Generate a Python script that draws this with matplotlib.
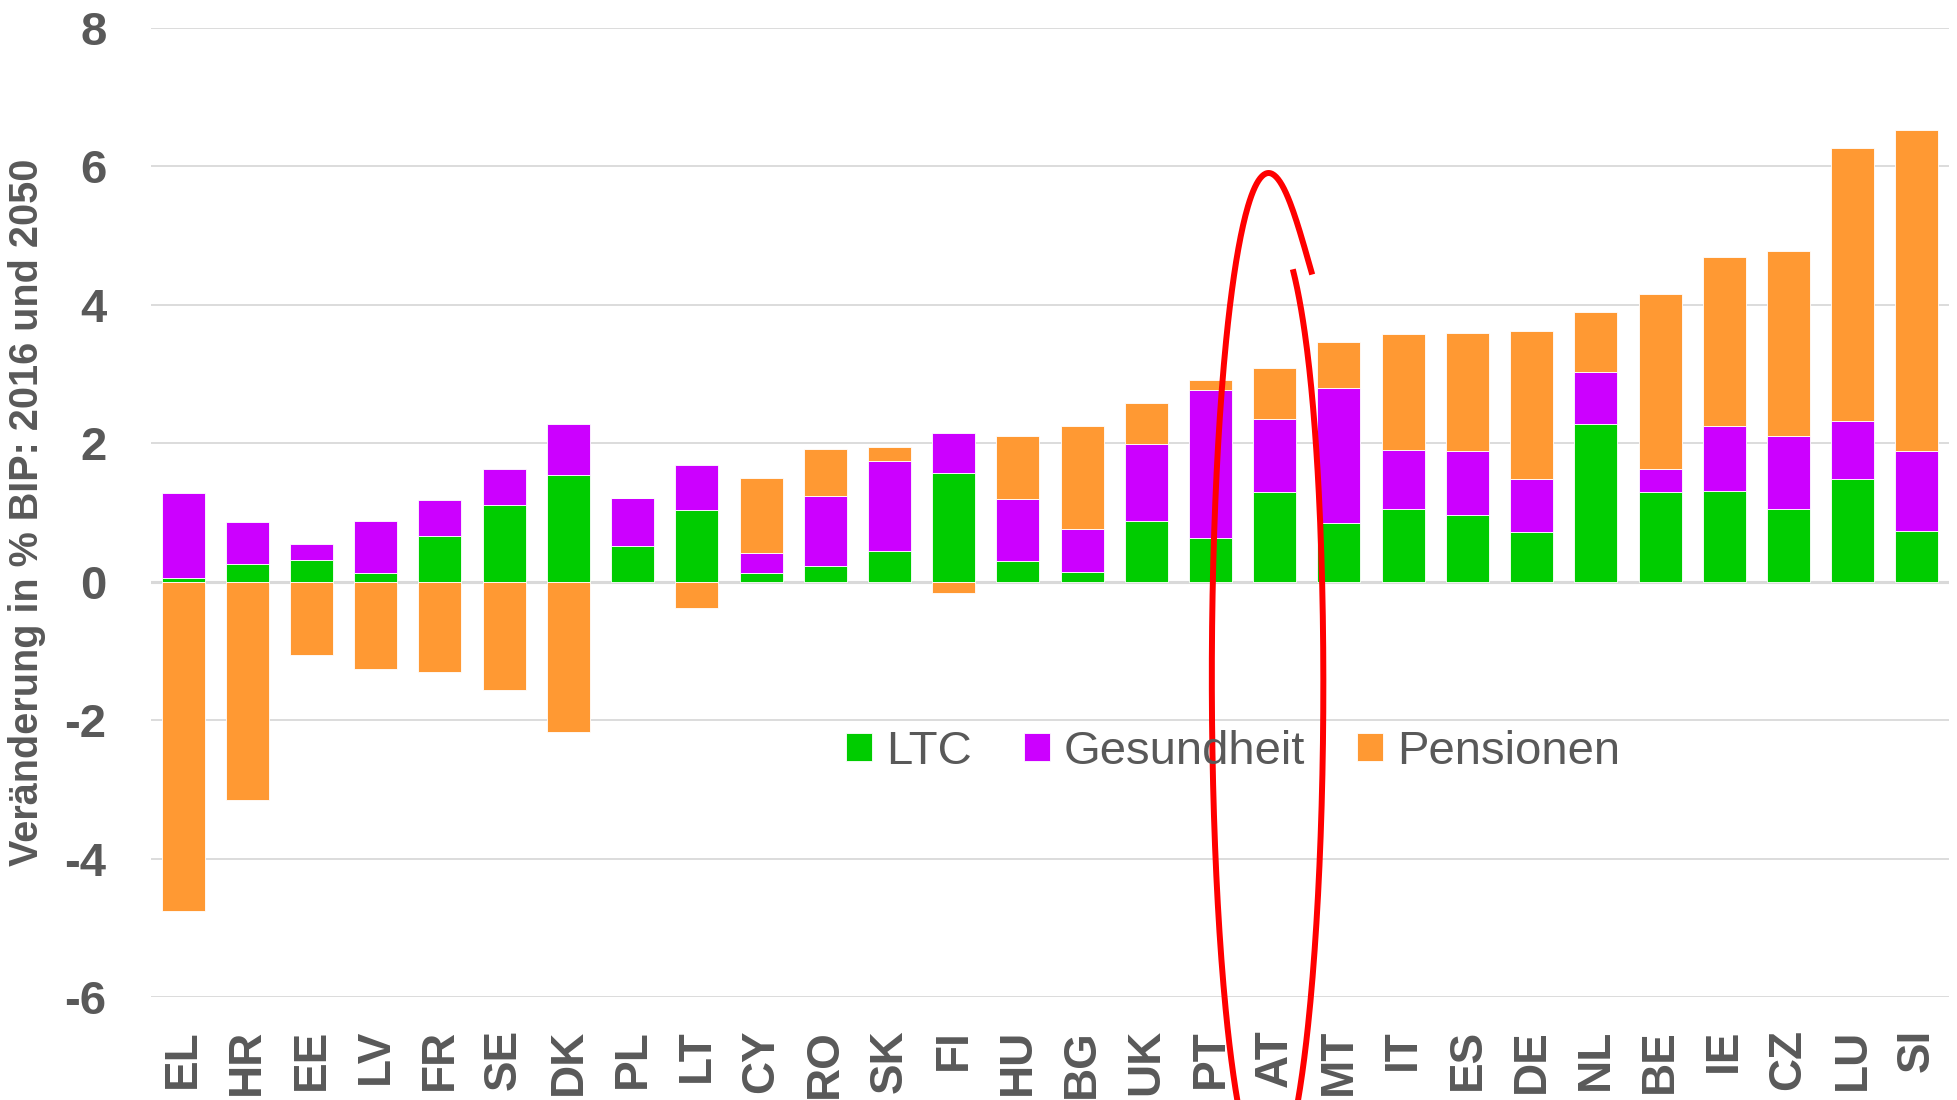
import numpy as np
import matplotlib as mpl
mpl.use('Agg')
import matplotlib.pyplot as plt

countries = ['EL', 'HR', 'EE', 'LV', 'FR', 'SE', 'DK', 'PL', 'LT', 'CY', 'RO', 'SK', 'FI', 'HU',
             'BG', 'UK', 'PT', 'AT', 'MT', 'IT', 'ES', 'DE', 'NL', 'BE', 'IE', 'CZ', 'LU', 'SI']
ltc = [0.05, 0.25, 0.31, 0.13, 0.66, 1.11, 1.54, 0.51, 1.03, 0.13, 0.23, 0.44, 1.57, 0.30,
       0.14, 0.87, 0.63, 1.30, 0.85, 1.05, 0.96, 0.71, 2.27, 1.29, 1.31, 1.05, 1.48, 0.73]
gesundheit = [1.23, 0.61, 0.23, 0.74, 0.52, 0.52, 0.74, 0.69, 0.66, 0.28, 1.00, 1.30, 0.57, 0.89,
              0.62, 1.12, 2.13, 1.05, 1.95, 0.85, 0.92, 0.77, 0.76, 0.33, 0.94, 1.05, 0.84, 1.15]
pensionen = [-4.76, -3.15, -1.06, -1.27, -1.30, -1.57, -2.18, 0.0, -0.38, 1.09, 0.69, 0.20, -0.17, 0.91,
             1.49, 0.59, 0.15, 0.74, 0.66, 1.67, 1.71, 2.14, 0.86, 2.53, 2.43, 2.67, 3.94, 4.64]
yticks = [-6, -4, -2, 0, 2, 4, 6, 8]

GREEN = '#00cc00'
PURPLE = '#cc00ff'
ORANGE = '#ff9933'
TEXT = '#595959'
GRID = '#d9d9d9'

fig = plt.figure(figsize=(19.57, 11), dpi=100)
ax = fig.add_axes([151 / 1957, 1 - 997 / 1100, 1798 / 1957, (997 - 27.6) / 1100])

x = np.arange(len(countries))
l = np.array(ltc)
g = np.array(gesundheit)
p = np.array(pensionen)
w = 0.67
kw = dict(width=w, edgecolor='white', linewidth=0.6, zorder=3)
ax.bar(x, l, color=GREEN, label='LTC', **kw)
ax.bar(x, g, bottom=l, color=PURPLE, label='Gesundheit', **kw)
ax.bar(x, p, bottom=np.where(p >= 0, l + g, 0), color=ORANGE, label='Pensionen', **kw)

ax.set_xlim(-0.5, len(countries) - 0.5)
ax.set_ylim(-6, 8)
ax.set_yticks(yticks)
ax.set_yticklabels([str(v) for v in yticks])
ax.yaxis.grid(True, color=GRID, linewidth=1.3)
ax.axhline(0, color=GRID, linewidth=2.2, zorder=2)
ax.set_axisbelow(True)
for s in ax.spines.values():
    s.set_visible(False)

ax.set_xticks(x)
ax.set_xticklabels(countries, rotation=90, va='top', ha='center')
ax.tick_params(axis='x', length=0, pad=23, labelsize=33, labelcolor=TEXT)
ax.tick_params(axis='y', length=0, pad=32, labelsize=34, labelcolor=TEXT)
for t in ax.get_xticklabels():
    t.set_fontfamily('Liberation Sans')
    t.set_fontweight('bold')
for t in ax.get_yticklabels():
    t.set_fontfamily('Liberation Sans')
    t.set_fontweight('bold')

ax.set_ylabel('Veränderung in % BIP: 2016 und 2050', fontsize=28.5, color=TEXT,
              fontweight='bold', family='Liberation Sans', labelpad=13)

ax.legend(loc='center', bbox_to_anchor=(0.602, 0.253), ncol=3, frameon=False,
          prop={'family': 'Liberation Sans', 'size': 34},
          handlelength=0.55, handleheight=0.55, handletextpad=0.3, columnspacing=1.1,
          labelcolor=TEXT)

# red hand-drawn ellipse around AT
ia = countries.index('AT')
cx, cy = ia - 0.11, -1.38
a, b = 0.87, 7.28
phi = np.radians(np.linspace(36, 397, 400))
dx = (-0.12 * np.exp(-(phi - phi[0]) / np.radians(15))
      + 0.17 * np.exp(-(phi[-1] - phi) / np.radians(15)))
ex = cx + a * np.sin(phi) + dx
ey = cy + b * np.cos(phi)
ax.plot(ex, ey, color='#ff0000', linewidth=4.3, clip_on=False, zorder=5,
        solid_capstyle='butt')

fig.savefig('out.png', dpi=100)
